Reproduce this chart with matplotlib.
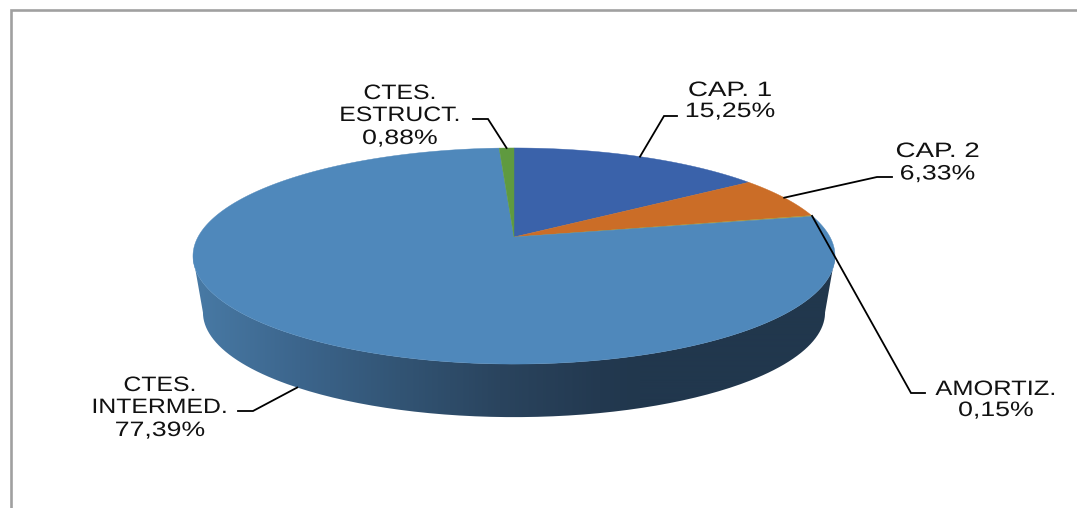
import numpy as np
import matplotlib
matplotlib.use("Agg")
import matplotlib.pyplot as plt
from matplotlib.patches import Polygon, PathPatch
from matplotlib.path import Path
from matplotlib.patheffects import AbstractPathEffect
from matplotlib.transforms import Affine2D

categories = ["CAP. 1", "CAP. 2", "AMORTIZ.", "CTES.\nINTERMED.", "CTES.\nESTRUCT."]
values = [15.25, 6.33, 0.15, 77.39, 0.88]
colors = ["#3a62aa", "#cb6d27", "#a8963a", "#4f88bb", "#5f9a3f"]

W, H = 1077, 508
plt.rcParams["font.family"] = ["Liberation Sans", "DejaVu Sans"]
fig = plt.figure(figsize=(W / 100, H / 100), dpi=100)
ax = fig.add_axes([0, 0, 1, 1])

# perspective projection of the pie disc
K, A, B = 0.176, 316.0, 104.7
CX, CY_TOP, CY_BOT, S_BOT = 514.0, 237.0, 294.0, 0.969


def project(theta_deg, r=1.0, bottom=False):
    t = np.radians(theta_deg)
    u, v = r * np.sin(t), r * np.cos(t)
    d = 1 + K * v
    s = S_BOT if bottom else 1.0
    cy = CY_BOT if bottom else CY_TOP
    return CX + s * A * u / d, cy - s * B * v / d


# side wall with horizontal shading
th_r = np.degrees(np.arccos(-K))
front = np.linspace(th_r, 360 - th_r, 200)
xt, yt = project(front)
xb, yb = project(front, bottom=True)
wall = np.column_stack([np.r_[xt, xb[::-1]], np.r_[yt, yb[::-1]]])
xs = np.arange(185, 845)
stops_x = [195, 300, 400, 500, 600, 640, 840]
rgb = np.stack([
    np.interp(xs, stops_x, [72, 60, 50, 42, 35, 33, 33]),
    np.interp(xs, stops_x, [122, 101, 84, 68, 57, 55, 55]),
    np.interp(xs, stops_x, [165, 140, 116, 94, 80, 77, 77]),
], axis=-1)[None, :, :] / 255
im = ax.imshow(rgb, extent=(185, 845, 425, 240), aspect="auto", zorder=1, interpolation="bilinear")
clip = PathPatch(Path(wall), transform=ax.transData, fc="none", ec="none")
ax.add_patch(clip)
im.set_clip_path(clip)

# top slices
fractions = np.array(values) / sum(values)
edges = np.r_[0, np.cumsum(fractions)] * 360
mids = (edges[:-1] + edges[1:]) / 2
for a0, a1, c in zip(edges[:-1], edges[1:], colors):
    th = np.linspace(a0, a1, max(int(a1 - a0) * 2, 3))
    x, y = project(th)
    ax.add_patch(Polygon(np.column_stack([np.r_[CX, x], np.r_[CY_TOP, y]]), closed=True,
                         fc=c, ec=c, lw=0.3, zorder=2))


class HStretch(AbstractPathEffect):
    """Widen a text horizontally around its centre, as in the stretched original."""

    def __init__(self, cx, factor):
        super().__init__()
        self.cx, self.factor = cx, factor

    def draw_path(self, renderer, gc, tpath, affine, rgbFace=None):
        aff = affine + Affine2D().translate(-self.cx, 0).scale(self.factor, 1).translate(self.cx, 0)
        renderer.draw_path(gc, tpath, aff, rgbFace)


def label(x, y, s, factor):
    ax.text(x, y, s, ha="center", va="center", fontsize=15, color="#111111", zorder=5,
            path_effects=[HStretch(x, factor)])


# label blocks: centre x, y of each line, leader elbow and tail, name-line stretch
layout = [
    (730, [90.5, 111.5], [(664, 116), (677, 116)], False, 1.33),
    (937.5, [151.5, 174], [(877, 177), (892, 177)], False, 1.33),
    (996, [389.5, 410.5], [(911, 393), (925, 393)], False, 1.22),
    (160, [385.5, 407.5, 430.5], [(253, 411), (238, 411)], True, 1.19),
    (400, [93.5, 115.5, 138.5], [(488, 119), (473, 119)], False, 1.19),
]
for name, val, mid, (lx, ys, tail, bottom, fac) in zip(categories, values, mids, layout):
    lines = name.split("\n")
    for s, y in zip(lines, ys):
        label(lx, y, s, fac)
    label(lx, ys[-1], f"{val:.2f}%".replace(".", ","), 1.28)
    px, py = project(mid, bottom=bottom)
    ax.plot([px, tail[0][0], tail[1][0]], [py, tail[0][1], tail[1][1]],
            color="black", lw=1.3, zorder=4, solid_joinstyle="miter")

# chart frame, cut by the image edges
ax.plot([11, 11, W + 5], [H + 5, 10, 10], color="#a0a0a0", lw=1.9, zorder=3, solid_joinstyle="miter")

ax.set_xlim(0, W)
ax.set_ylim(H, 0)
ax.axis("off")
fig.savefig("out.png", dpi=100, facecolor="white")
